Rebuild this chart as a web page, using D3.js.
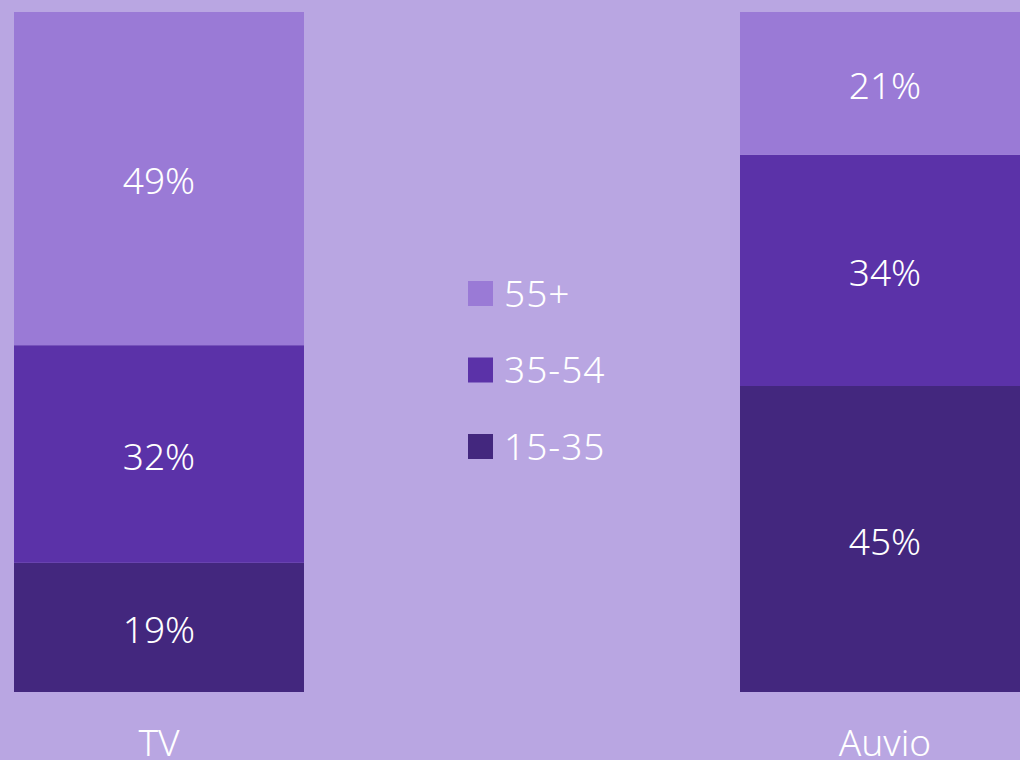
<!DOCTYPE html>
<html>
<head>
<meta charset="utf-8">
<script src="https://cdn.jsdelivr.net/npm/d3@7"></script>
<style>
  html, body { margin: 0; padding: 0; background: #b9a6e2; overflow: hidden; }
  svg { display: block; }
  text { font-family: "Noto Sans", "Open Sans", sans-serif; fill: #ffffff; }
</style>
</head>
<body>
<svg id="chart" width="1020" height="760"></svg>
<script>
// data
const channels = ["TV", "Auvio"];
const ageGroups = ["15-35", "35-54", "55+"];
const share1535 = [19, 45];
const share3554 = [32, 34];
const share55 = [49, 21];
const legendOrder = ["55+", "35-54", "15-35"];

const colors = { "55+": "#9a7ad6", "35-54": "#5b32a8", "15-35": "#43277e" };

const svg = d3.select("#chart");
const width = +svg.attr("width");
const height = +svg.attr("height");

svg.append("rect").attr("width", width).attr("height", height).attr("fill", "#b9a6e2");

// build table rows for the stack
const rows = channels.map((c, i) => ({
  channel: c,
  "15-35": share1535[i],
  "35-54": share3554[i],
  "55+": share55[i]
}));
const series = d3.stack().keys(ageGroups)(rows);

const x = d3.scaleBand()
  .domain(channels)
  .range([14, 1030])
  .paddingInner(436 / 726)
  .paddingOuter(0);
const y = d3.scaleLinear().domain([0, 100]).range([692, 12]);

const layers = svg.selectAll(".layer")
  .data(series)
  .enter()
  .append("g")
  .attr("class", "layer")
  .attr("fill", d => colors[d.key]);

layers.selectAll("rect")
  .data(d => d)
  .enter()
  .append("rect")
  .attr("x", d => x(d.data.channel))
  .attr("y", d => y(d[1]))
  .attr("width", x.bandwidth())
  .attr("height", d => y(d[0]) - y(d[1]));

// value labels
layers.selectAll("text")
  .data(d => d)
  .enter()
  .append("text")
  .attr("x", d => x(d.data.channel) + x.bandwidth() / 2)
  .attr("y", d => (y(d[0]) + y(d[1])) / 2)
  .attr("dy", "0.42em")
  .attr("text-anchor", "middle")
  .style("font-size", "37px")
  .style("font-weight", 300)
  .text(d => (d[1] - d[0]) + "%");

// category labels
svg.selectAll(".cat")
  .data(channels)
  .enter()
  .append("text")
  .attr("class", "cat")
  .attr("x", d => x(d) + x.bandwidth() / 2)
  .attr("y", 756)
  .attr("text-anchor", "middle")
  .style("font-size", "37px")
  .style("font-weight", 300)
  .text(d => d);

// legend
const legend = svg.append("g").attr("transform", "translate(468,281)");
const item = legend.selectAll(".item")
  .data(legendOrder)
  .enter()
  .append("g")
  .attr("class", "item")
  .attr("transform", (d, i) => "translate(0," + i * 76.5 + ")");
item.append("rect")
  .attr("width", 25)
  .attr("height", 25)
  .attr("fill", d => colors[d]);
item.append("text")
  .attr("x", 36)
  .attr("y", 12.5)
  .attr("dy", "0.36em")
  .style("font-size", "37px")
  .style("font-weight", 300)
  .style("letter-spacing", "1px")
  .text(d => d);
</script>
</body>
</html>
